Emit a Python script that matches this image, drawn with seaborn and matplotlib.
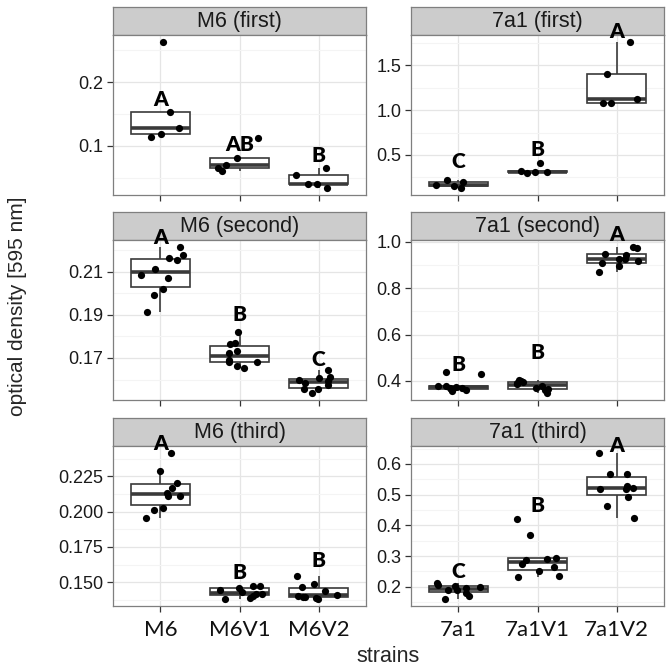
import numpy as np
import pandas as pd
import matplotlib
matplotlib.use("Agg")
import matplotlib.pyplot as plt
import seaborn as sns
from matplotlib.ticker import FixedLocator

# ---------------- data ----------------
m6_strains = ["M6", "M6V1", "M6V2"]
a7_strains = ["7a1", "7a1V1", "7a1V2"]

# M6 (first)
m6_first_M6 = [0.2625, 0.153, 0.1146, 0.119, 0.128]
m6_first_V1 = [0.112, 0.0604, 0.0693, 0.0661, 0.0813]
m6_first_V2 = [0.0547, 0.040, 0.0656, 0.0396, 0.0344]
m6_first_letters = ["A", "AB", "B"]
m6_first_letter_y = [0.173, 0.1026, 0.0844]

# 7a1 (first)
a7_first_7a1 = [0.20, 0.16, 0.135, 0.225, 0.15]
a7_first_V1 = [0.30, 0.31, 0.315, 0.32, 0.41]
a7_first_V2 = [1.756, 1.40, 1.081, 1.074, 1.122]
a7_first_letters = ["C", "B", "A"]
a7_first_letter_y = [0.422, 0.556, 1.878]

# M6 (second)
m6_second_M6 = [0.2177, 0.2162, 0.2213, 0.2153, 0.2111, 0.2085, 0.2069, 0.2018, 0.1992, 0.1915]
m6_second_V1 = [0.1769, 0.1822, 0.1723, 0.1765, 0.1731, 0.1681, 0.1652, 0.1692, 0.1680, 0.1661]
m6_second_V2 = [0.1584, 0.1556, 0.1606, 0.1598, 0.1555, 0.1539, 0.1643, 0.1613, 0.1573, 0.1592]
m6_second_letters = ["A", "B", "C"]
m6_second_letter_y = [0.2259, 0.190, 0.1692]

# 7a1 (second)
a7_second_7a1 = [0.355, 0.36, 0.365, 0.37, 0.37, 0.375, 0.38, 0.38, 0.43, 0.44]
a7_second_V1 = [0.349, 0.362, 0.366, 0.37, 0.378, 0.385, 0.39, 0.395, 0.401, 0.406]
a7_second_V2 = [0.869, 0.894, 0.909, 0.916, 0.926, 0.926, 0.944, 0.949, 0.973, 0.977]
a7_second_letters = ["B", "B", "A"]
a7_second_letter_y = [0.469, 0.523, 1.03]

# M6 (third)
m6_third_M6 = [0.2412, 0.2289, 0.2199, 0.2168, 0.2111, 0.2109, 0.2130, 0.2014, 0.2028, 0.1953]
m6_third_V1 = [0.1383, 0.1387, 0.1404, 0.1418, 0.1418, 0.1432, 0.1445, 0.1460, 0.1475, 0.1475]
m6_third_V2 = [0.1384, 0.1387, 0.1392, 0.1396, 0.1404, 0.1410, 0.1437, 0.1465, 0.1484, 0.1541]
m6_third_letters = ["A", "B", "B"]
m6_third_letter_y = [0.2478, 0.1572, 0.1655]

# 7a1 (third)
a7_third_7a1 = [0.161, 0.17, 0.18, 0.19, 0.191, 0.196, 0.20, 0.202, 0.206, 0.213]
a7_third_V1 = [0.2314, 0.2346, 0.251, 0.263, 0.2757, 0.2865, 0.291, 0.294, 0.37, 0.4205]
a7_third_V2 = [0.4238, 0.4616, 0.491, 0.518, 0.519, 0.521, 0.5286, 0.5676, 0.5676, 0.6346]
a7_third_letters = ["C", "B", "A"]
a7_third_letter_y = [0.251, 0.464, 0.661]

panels = [
    ("M6 (first)", m6_strains, [m6_first_M6, m6_first_V1, m6_first_V2], m6_first_letters, m6_first_letter_y,
     [0.1, 0.2], [0.05, 0.15, 0.25], "{:.1f}"),
    ("7a1 (first)", a7_strains, [a7_first_7a1, a7_first_V1, a7_first_V2], a7_first_letters, a7_first_letter_y,
     [0.5, 1.0, 1.5], [0.25, 0.75, 1.25, 1.75], "{:.1f}"),
    ("M6 (second)", m6_strains, [m6_second_M6, m6_second_V1, m6_second_V2], m6_second_letters, m6_second_letter_y,
     [0.17, 0.19, 0.21], [0.16, 0.18, 0.20, 0.22], "{:.2f}"),
    ("7a1 (second)", a7_strains, [a7_second_7a1, a7_second_V1, a7_second_V2], a7_second_letters, a7_second_letter_y,
     [0.4, 0.6, 0.8, 1.0], [0.3, 0.5, 0.7, 0.9], "{:.1f}"),
    ("M6 (third)", m6_strains, [m6_third_M6, m6_third_V1, m6_third_V2], m6_third_letters, m6_third_letter_y,
     [0.150, 0.175, 0.200, 0.225], [0.1375, 0.1625, 0.1875, 0.2125, 0.2375], "{:.3f}"),
    ("7a1 (third)", a7_strains, [a7_third_7a1, a7_third_V1, a7_third_V2], a7_third_letters, a7_third_letter_y,
     [0.2, 0.3, 0.4, 0.5, 0.6], [0.15, 0.25, 0.35, 0.45, 0.55, 0.65], "{:.1f}"),
]

# ---------------- layout ----------------
sns.set_style("white")
plt.rcParams["font.family"] = ["Liberation Sans", "DejaVu Sans"]

W = H = 672
fig = plt.figure(figsize=(6.72, 6.72), dpi=100)

col_x = [113, 411]
panel_w = 253
strip_top = [7, 212, 418]
strip_h = 28
plot_h = 160

grey50 = "#7F7F7F"
box_col = "#3a3a3a"
np.random.seed(3)

for i, (title, strains, vals, letters, letter_y, majors, minors, fmt) in enumerate(panels):
    r, c = divmod(i, 2)
    x0 = col_x[c]
    st = strip_top[r]
    pt = st + strip_h
    ax = fig.add_axes([x0 / W, 1 - (pt + plot_h) / H, panel_w / W, plot_h / H])
    sax = fig.add_axes([x0 / W, 1 - (st + strip_h) / H, panel_w / W, strip_h / H])

    df = pd.DataFrame({
        "strain": np.repeat(strains, [len(v) for v in vals]),
        "od": np.concatenate([np.asarray(v, float) for v in vals]),
    })

    sns.boxplot(data=df, x="strain", y="od", order=strains, ax=ax, width=0.75,
                color="white", saturation=1, linecolor=box_col, linewidth=1.2,
                showfliers=False, showcaps=False,
                medianprops=dict(linewidth=2.6, color=box_col),
                boxprops=dict(facecolor="white"))
    sns.stripplot(data=df, x="strain", y="od", order=strains, ax=ax, jitter=0.3,
                  color="black", size=5.2, linewidth=0, zorder=4)

    lo, hi = df["od"].min(), df["od"].max()
    pad = 0.05 * (hi - lo)
    ax.set_ylim(lo - pad, hi + pad)
    ax.set_xlim(-0.6, 2.6)

    ax.yaxis.set_major_locator(FixedLocator(majors))
    ax.yaxis.set_minor_locator(FixedLocator(minors))
    ax.set_yticklabels([fmt.format(m) for m in majors])
    ax.set_axisbelow(True)
    ax.grid(True, which="major", color="#E5E5E5", linewidth=0.9)
    ax.grid(True, which="minor", axis="y", color="#F4F4F4", linewidth=0.8)
    ax.set_facecolor("white")
    for s in ax.spines.values():
        s.set_color(grey50)
        s.set_linewidth(0.9)
        s.set_visible(True)
    ax.tick_params(axis="both", which="major", length=4, width=0.9, color="#333333",
                   direction="out", left=True, bottom=True)
    ax.tick_params(axis="y", labelsize=13, pad=3, labelcolor="#1a1a1a")
    ax.tick_params(axis="y", which="minor", length=0)
    if r == 2:
        ax.tick_params(axis="x", labelsize=16, pad=6, labelcolor="#111111")
        for lab in ax.get_xticklabels():
            lab.set_fontfamily(["Lato", "DejaVu Sans"])
    else:
        ax.tick_params(axis="x", labelbottom=False)
    ax.set_xlabel("")
    ax.set_ylabel("")

    for k, (lt, ly) in enumerate(zip(letters, letter_y)):
        ax.text(k, ly, lt, ha="center", va="center", fontsize=15, fontweight="heavy",
                family=["Lato", "DejaVu Sans"], color="black", clip_on=False, zorder=10)

    sax.set_facecolor("#CCCCCC")
    sax.set_xticks([])
    sax.set_yticks([])
    for s in sax.spines.values():
        s.set_color(grey50)
        s.set_linewidth(0.9)
        s.set_visible(True)
    sax.text(0.5, 0.47, title, ha="center", va="center", fontsize=15.5,
             transform=sax.transAxes, color="#1a1a1a")
    sax.set_zorder(0)
    ax.set_zorder(1)

fig.text(388 / W, 1 - 657 / H, "strains", ha="center", va="center", fontsize=15.5)
fig.text(18 / W, 1 - 306 / H, "optical density [595 nm]", ha="center", va="center",
         rotation=90, fontsize=15)

fig.savefig("out.png", dpi=100, facecolor="white")
